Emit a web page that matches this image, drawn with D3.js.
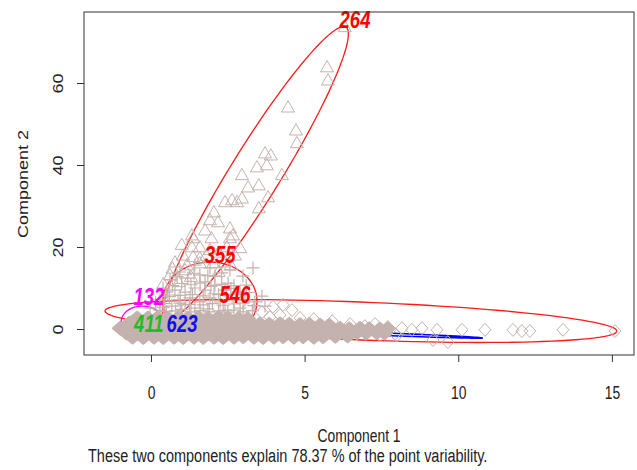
<!DOCTYPE html>
<html>
<head>
<meta charset="utf-8">
<script src="https://cdn.jsdelivr.net/npm/d3@7"></script>
<style>
  body { margin: 0; background: #fff; }
  svg { display: block; font-family: "Liberation Sans", Arial, sans-serif; }
</style>
</head>
<body>
<svg id="chart" width="637" height="470"></svg>
<script>
// axis ticks
var xTicks = [0, 5, 10, 15];
var yTicks = [0, 20, 40, 60];

// cluster ellipses: centre, half major axis vector, half minor axis vector (data units)
var ellNames = ['264', '355', '546', '132', '623'];
var ellCentre = [[3.40, 37.93], [1.92, 6.83], [6.834, 1.951], [-0.29, 1.7], [5.30, -0.61]];
var ellAxisA = [[2.945, 35.71], [1.53, 0], [8.331, -2.439], [0.68, 0], [5.50, -1.585]];
var ellAxisB = [[0.693, -3.22], [0, 9.51], [-0.024, 4.634], [0, 3.9], [0, 0.37]];

// cluster labels and where they sit
var labelNames = ['264', '355', '546', '132', '411', '623'];
var labelPos = [[6.64, 73.4], [2.25, 16.1], [2.73, 6.3], [-0.07, 5.9], [-0.07, -0.7], [1.01, -0.7]];

// points, pch 2 (triangles)
var triPts = [
  [6.31, 73.7], [5.73, 63.9], [5.76, 60.7], [4.46, 54.1], [4.72, 48.5], [4.75, 45.4],
  [3.71, 42.9], [3.90, 42.4], [3.77, 40.0], [3.45, 39.5], [4.26, 37.6], [2.96, 37.6],
  [3.16, 34.6], [3.51, 35.1], [3.81, 32.2], [2.41, 31.0], [2.64, 31.5], [2.80, 31.0],
  [2.96, 31.9], [3.51, 29.5], [2.05, 28.5], [1.92, 26.6], [2.18, 26.1], [2.57, 24.6],
  [1.76, 24.1], [2.67, 22.9], [1.33, 22.9], [1.97, 22.2], [2.57, 22.2], [1.37, 22.2],
  [1.33, 20.0], [1.59, 20.0], [2.47, 20.0], [1.04, 18.0], [1.37, 17.6], [1.59, 16.1],
  [2.02, 16.1], [1.17, 15.6], [0.78, 16.3], [1.11, 14.4], [1.59, 17.3], [2.41, 16.3],
  [2.73, 18.0], [1.92, 19.3], [0.62, 13.2], [2.90, 19.8], [0.9, 11.5], [1.3, 12.8],
  [2.2, 14.0], [0.7, 14.8], [2.6, 15.6], [1.8, 17.9], [2.2, 18.7], [1.0, 20.6], [0.4, 11.0]
];

// points, pch 3 (plus)
var plusPts = [
  [3.32, 14.9], [2.99, 12.9], [2.51, 11.2], [2.08, 10.7], [1.76, 9.5], [1.43, 10.0],
  [1.11, 9.0], [0.78, 9.5], [0.55, 8.3], [0.88, 7.1], [1.27, 7.6], [1.59, 6.6],
  [1.92, 7.6], [2.25, 6.6], [2.64, 7.6], [2.90, 9.0], [3.06, 7.1], [3.38, 6.6],
  [3.61, 8.0], [3.71, 5.6], [1.20, 12.4], [1.59, 13.2], [1.92, 14.9], [1.43, 15.6],
  [0.94, 13.9], [0.62, 12.0], [0.29, 7.1], [0.39, 10.0], [2.41, 9.5], [2.08, 12.9],
  [2.57, 14.4], [1.76, 11.5], [1.11, 5.9], [0.68, 5.6], [1.43, 5.1], [1.85, 4.9],
  [2.41, 4.6], [2.90, 5.1], [0.29, 4.6], [-0.03, 5.1], [0.45, 6.2], [2.2, 8.4],
  [0.5, 4.3], [0.8, 4.4], [1.0, 4.8], [1.3, 4.2], [1.6, 4.5], [1.9, 4.2], [2.2, 4.4],
  [2.5, 4.1], [2.7, 4.6], [3.0, 4.2], [3.3, 4.5], [0.6, 7.9], [0.95, 8.2], [1.35, 8.4],
  [1.7, 8.1], [2.05, 8.6], [2.45, 8.2], [2.75, 8.5], [3.2, 8.9], [0.7, 10.6], [1.0, 11.1],
  [1.3, 10.8], [1.6, 11.2], [1.95, 10.4], [2.3, 10.9], [2.7, 10.6], [0.95, 6.3], [1.25, 6.0],
  [1.7, 5.9], [2.0, 6.2], [2.35, 5.8], [2.7, 6.1], [3.0, 6.3], [3.35, 5.7], [0.4, 5.3],
  [0.15, 6.4], [1.4, 13.6], [1.85, 13.0], [2.3, 13.7], [0.85, 12.8], [0.5, 9.0], [2.6, 9.9],
  [3.1, 10.7]
];

// points, pch 5 (diamonds) outside the dense core
var diaPts = [
  [3.97, 5.4], [4.30, 5.9], [4.59, 4.6], [4.20, 3.4], [3.87, 2.9], [3.61, 4.1],
  [4.85, 2.7], [6.48, 1.2], [6.96, 0.7], [7.29, 1.2], [7.45, -1.5], [7.94, -1.2],
  [7.71, 0.5], [8.17, 0.2], [8.49, -0.2], [8.82, 0.2], [9.31, -0.2], [9.18, -2.7],
  [9.66, -3.2], [10.12, -0.2], [10.87, -0.2], [11.78, -0.2], [12.07, -0.5],
  [12.33, -0.5], [13.41, -0.2], [15.10, -0.5], [5.3, 2.4], [5.9, 1.9], [8.0, -1.6]
];

// dense core of the diamond cluster
var corePts = [
  [-0.45, 2.7], [-0.1, 2.7], [0.22, 2.8], [0.55, 2.7], [0.9, 2.9], [1.2, 2.7], [1.55, 2.8],
  [1.85, 2.7], [2.2, 2.9], [2.5, 2.7], [2.85, 2.6], [3.15, 2.5],
  [-0.7, 1.5], [-0.35, 1.4], [-0.05, 1.5], [0.3, 1.6], [0.6, 1.5], [0.95, 1.4], [1.25, 1.5],
  [1.6, 1.6], [1.9, 1.5], [2.25, 1.4], [2.55, 1.5], [2.9, 1.6], [3.2, 1.4], [3.55, 1.3],
  [3.85, 1.2], [4.2, 1.3], [4.5, 1.2], [4.85, 1.1], [5.15, 1.2], [5.5, 1.0], [5.8, 0.9],
  [-1.0, 0.2], [-0.7, 0.3], [-0.35, 0.2], [-0.05, 0.1], [0.3, 0.2], [0.6, 0.3], [0.95, 0.2],
  [1.25, 0.1], [1.6, 0.2], [1.9, 0.3], [2.25, 0.2], [2.55, 0.1], [2.9, 0.2], [3.2, 0.3],
  [3.55, 0.2], [3.85, 0.1], [4.2, 0.2], [4.5, 0.3], [4.85, 0.2], [5.15, 0.1], [5.5, 0.2],
  [5.8, 0.3], [6.15, 0.2], [6.45, 0.1], [6.8, 0.2], [7.1, 0.1], [7.45, 0.0], [7.7, 0.1],
  [-0.8, -1.0], [-0.45, -1.1], [-0.15, -1.0], [0.2, -0.9], [0.5, -1.0], [0.85, -1.1],
  [1.15, -1.0], [1.5, -0.9], [1.8, -1.0], [2.15, -1.1], [2.45, -1.0], [2.8, -0.9],
  [3.1, -1.0], [3.45, -1.1], [3.75, -1.0], [4.1, -0.9], [4.4, -1.0], [4.75, -1.1],
  [5.05, -1.0], [5.4, -0.9], [5.7, -1.0], [6.05, -1.1], [6.35, -1.0], [6.7, -0.9],
  [7.0, -1.0], [7.35, -0.9], [7.6, -1.0],
  [-0.6, -2.0], [-0.25, -2.1], [0.1, -2.0], [0.4, -2.1], [0.75, -2.0], [1.05, -2.1],
  [1.4, -2.0], [1.7, -2.1], [2.05, -2.0], [2.35, -2.1], [2.7, -2.0], [3.0, -1.9],
  [3.35, -2.0], [3.65, -2.1], [4.0, -2.0], [4.3, -1.9], [4.65, -2.0], [4.95, -1.9],
  [5.3, -2.0], [5.6, -1.9], [6.0, -1.8], [6.4, -1.7]
];

var ellColour = { '264': '#ff1a1a', '355': '#ff1a1a', '546': '#ff1a1a', '132': '#ff00ff', '623': '#0000ff' };
var labColour = { '264': '#ff0000', '355': '#ff0000', '546': '#ff0000', '132': '#ff00ff', '411': '#22bb22', '623': '#1010ee' };
var pointCol = '#c4b2ae';
var squeeze = 'scale(0.77,1)';

var svg = d3.select('#chart');
var x = d3.scaleLinear().domain([-2.18, 15.72]).range([84, 634]);
var y = d3.scaleLinear().domain([-6.34, 77.32]).range([355, 12]);

// ellipses first, the points are drawn over them
var steps = d3.range(0, 361, 3);
ellNames.forEach(function(name, i) {
    var c = ellCentre[i], a = ellAxisA[i], b = ellAxisB[i];
    var line = d3.line()
        .x(function(deg) {
            var t = deg * Math.PI / 180;
            return x(c[0] + Math.cos(t) * a[0] + Math.sin(t) * b[0]);
        })
        .y(function(deg) {
            var t = deg * Math.PI / 180;
            return y(c[1] + Math.cos(t) * a[1] + Math.sin(t) * b[1]);
        });
    svg.append('path')
        .attr('d', line(steps))
        .attr('fill', 'none')
        .attr('stroke', ellColour[name])
        .attr('stroke-width', name === '623' ? 1.6 : 1.3);
});

// dense core
svg.append('g').selectAll('path')
    .data(corePts)
    .enter().append('path')
    .attr('transform', function(d) { return 'translate(' + x(d[0]) + ',' + y(d[1]) + ')'; })
    .attr('d', 'M0,-6L7,0L0,6L-7,0Z')
    .attr('fill', pointCol)
    .attr('stroke', pointCol)
    .attr('stroke-width', 2.5)
    .attr('stroke-linejoin', 'round');

// open diamonds
svg.append('g').selectAll('path')
    .data(diaPts)
    .enter().append('path')
    .attr('transform', function(d) { return 'translate(' + x(d[0]) + ',' + y(d[1]) + ')'; })
    .attr('d', 'M0,-6.5L6,0L0,6.5L-6,0Z')
    .attr('fill', 'none')
    .attr('stroke', pointCol);

// plus signs
svg.append('g').selectAll('path')
    .data(plusPts)
    .enter().append('path')
    .attr('transform', function(d) { return 'translate(' + x(d[0]) + ',' + y(d[1]) + ')'; })
    .attr('d', 'M-6.5,0H6.5M0,-6.5V6.5')
    .attr('fill', 'none')
    .attr('stroke', pointCol)
    .attr('stroke-width', 1.2);

// triangles
svg.append('g').selectAll('path')
    .data(triPts)
    .enter().append('path')
    .attr('transform', function(d) { return 'translate(' + x(d[0]) + ',' + y(d[1]) + ')'; })
    .attr('d', 'M0,-6.5L6.5,4.8L-6.5,4.8Z')
    .attr('fill', 'none')
    .attr('stroke', pointCol);

// cluster labels
labelNames.forEach(function(name, i) {
    svg.append('text')
        .attr('transform', 'translate(' + x(labelPos[i][0]) + ',' + y(labelPos[i][1]) + ') ' + squeeze)
        .attr('text-anchor', 'middle')
        .attr('font-size', 24)
        .attr('font-weight', 'bold')
        .attr('font-style', 'italic')
        .attr('fill', labColour[name])
        .text(name);
});

// box
svg.append('rect')
    .attr('x', 84).attr('y', 12)
    .attr('width', 550).attr('height', 343)
    .attr('fill', 'none')
    .attr('stroke', '#333');

// axes
var xAxis = svg.append('g')
    .attr('transform', 'translate(0,355)')
    .call(d3.axisBottom(x).tickValues(xTicks).tickSize(7));
xAxis.select('.domain').remove();
xAxis.selectAll('line').attr('stroke', '#333');
xAxis.selectAll('text')
    .attr('y', 0).attr('dy', null)
    .attr('transform', 'translate(0,44) ' + squeeze)
    .attr('font-size', 18)
    .attr('font-family', '"Liberation Sans", Arial, sans-serif')
    .attr('fill', '#222');

var yAxis = svg.append('g')
    .attr('transform', 'translate(84,0)')
    .call(d3.axisLeft(y).tickValues(yTicks).tickSize(7));
yAxis.select('.domain').remove();
yAxis.selectAll('line').attr('stroke', '#333');
yAxis.selectAll('text')
    .attr('x', 0).attr('y', 0).attr('dy', null)
    .attr('text-anchor', 'middle')
    .attr('transform', 'translate(-21,0) ' + squeeze + ' rotate(-90)')
    .attr('font-size', 18)
    .attr('font-family', '"Liberation Sans", Arial, sans-serif')
    .attr('fill', '#222');

// titles
svg.append('text')
    .attr('transform', 'translate(359,442) ' + squeeze)
    .attr('text-anchor', 'middle')
    .attr('font-size', 18)
    .attr('fill', '#222')
    .text('Component 1');

svg.append('text')
    .attr('transform', 'translate(28,184) ' + squeeze + ' rotate(-90)')
    .attr('text-anchor', 'middle')
    .attr('font-size', 18)
    .attr('fill', '#222')
    .text('Component 2');

svg.append('text')
    .attr('transform', 'translate(88,462) ' + squeeze)
    .attr('font-size', 18.8)
    .attr('fill', '#222')
    .text('These two components explain 78.37 % of the point variability.');
</script>
</body>
</html>
